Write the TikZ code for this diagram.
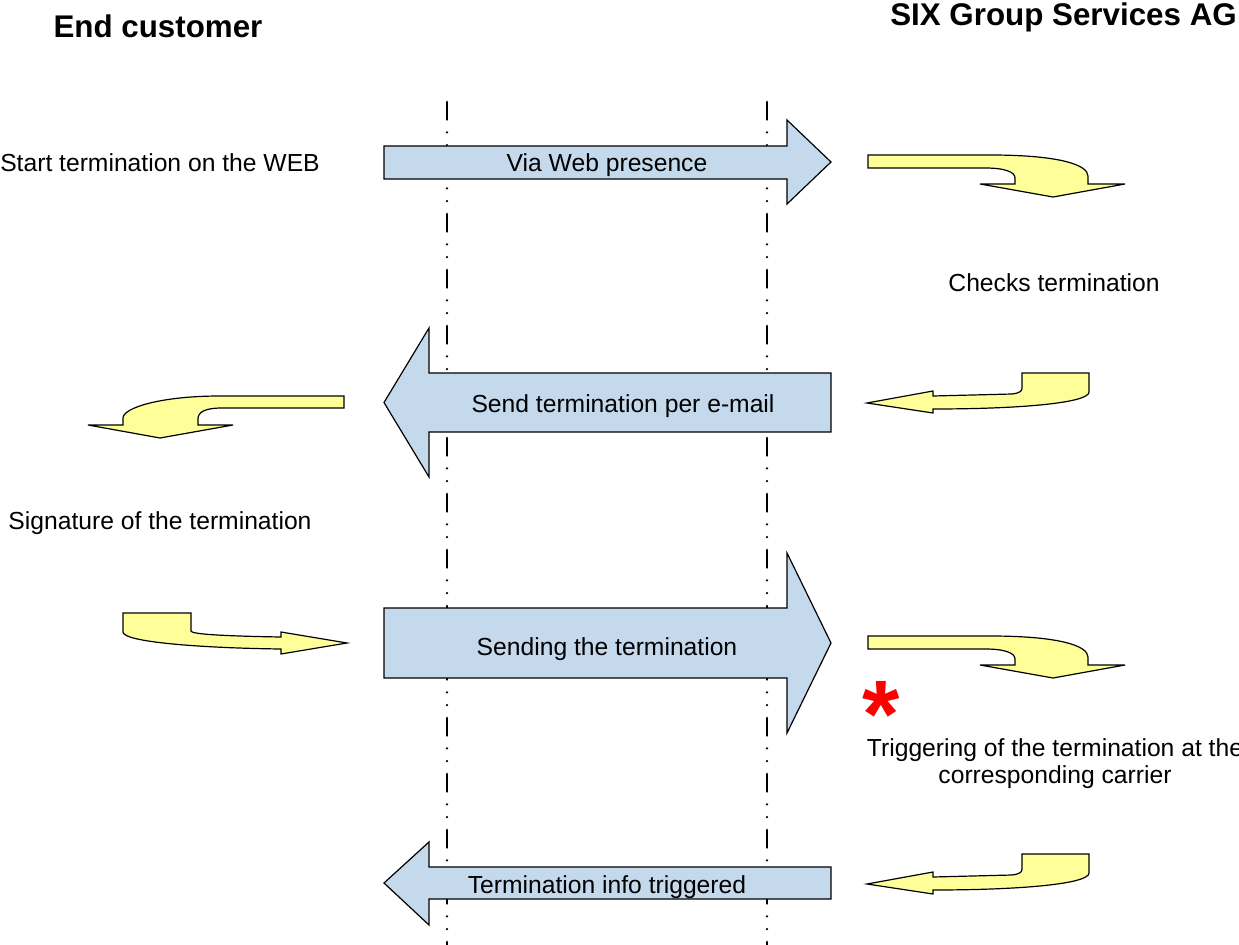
\documentclass[tikz,border=0pt]{standalone}
\usepackage{fontspec}
\setmainfont{Liberation Sans}
\definecolor{bluefill}{RGB}{197,217,236}
\definecolor{yellowfill}{RGB}{255,255,153}
\begin{document}
\begin{tikzpicture}[x=0.75pt,y=-0.75pt,
  bigarrow/.style={fill=bluefill,draw=black,line width=0.9pt,line join=miter},
  bentarrow/.style={fill=yellowfill,draw=black,line width=0.9pt,line join=miter},
  lifeline/.style={draw=black,line width=1.9pt,line cap=round,
     dash pattern=on 13.2pt off 9.6pt on 0pt off 9.6pt on 0pt off 9.6pt},
  lbl/.style={inner sep=0pt,font=\fontsize{18.5}{20.25}\selectfont},
  title/.style={inner sep=0pt,font=\fontsize{23.5}{26}\selectfont\bfseries}]
\useasboundingbox (0,0) rectangle (1239,945);
\fill[white] (0,0) rectangle (1239,945);

% lifelines
\coordinate (l1top) at (447,102);
\coordinate (l1bot) at (447,960);
\coordinate (l2top) at (767,102);
\coordinate (l2bot) at (767,960);
\draw[lifeline] (l1top) -- (l1bot);
\draw[lifeline] (l2top) -- (l2bot);

% titles
\node[title] (tEnd) at (158,26) {End customer};
\node[title,anchor=west] (tSix) at (890,17) {SIX Group Services AG};

% blue arrows
\draw[bigarrow] (384,146) -- (787,146) -- (787,120) -- (831,162) -- (787,204) -- (787,179) -- (384,179) -- cycle;
\node[lbl] (a1) at (607,165) {Via Web presence};

\draw[bigarrow] (831,373) -- (429,373) -- (429,328) -- (384,402.5) -- (429,477) -- (429,432) -- (831,432) -- cycle;
\node[lbl] (a2) at (623,406) {Send termination per e-mail};

\draw[bigarrow] (384,608) -- (787,608) -- (787,553) -- (831,643) -- (787,733) -- (787,678) -- (384,678) -- cycle;
\node[lbl] (a3) at (607,649) {Sending the termination};

\draw[bigarrow] (831,867) -- (429,867) -- (429,842) -- (384,883) -- (429,925) -- (429,899) -- (831,899) -- cycle;
\node[lbl] (a4) at (607,887) {Termination info triggered};

% yellow bent arrows (right side, pointing down)
\foreach \dy in {0,481}{
\draw[bentarrow] (868,155+\dy) -- (990,155+\dy) .. controls (1060,155+\dy) and (1088,165+\dy) .. (1088,176+\dy) -- (1088,184+\dy) -- (1125,184+\dy) -- (1053,197+\dy) -- (980,184+\dy) -- (1015,184+\dy) -- (1015,178+\dy) .. controls (1015,172+\dy) and (1005,168+\dy) .. (985,168+\dy) -- (868,168+\dy) -- cycle;
}
% yellow bent arrows (right side, pointing left)
\foreach \dy in {0,481}{
\draw[bentarrow] (1022,373+\dy) -- (1089,373+\dy) -- (1089,392+\dy) .. controls (1089,403+\dy) and (1020,409+\dy) .. (933,409+\dy) -- (933,413+\dy) -- (867,403+\dy) -- (933,391+\dy) -- (933,396+\dy) -- (1012,394+\dy) .. controls (1020,393+\dy) and (1022,391+\dy) .. (1022,388+\dy) -- cycle;
}
% left side: pointing down
\draw[bentarrow] (344,396) -- (220,396) .. controls (160,396) and (123,408) .. (123,418) -- (123,425) -- (88,425) -- (160,438) -- (233,425) -- (198,425) -- (198,419) .. controls (198,412) and (205,408) .. (222,408) -- (344,408) -- cycle;
% left side: pointing right
\draw[bentarrow] (123,613) -- (191,613) -- (191,631) .. controls (191,634) and (220,636) .. (281,637) -- (281,632) -- (347,643) -- (281,654) -- (281,649) .. controls (200,648) and (123,642) .. (123,632) -- cycle;

% labels
\node[lbl] (s1) at (160,163) {Start termination on the WEB};
\node[lbl] (s2) at (1054,283) {Checks termination};
\node[lbl] (s3) at (160,523) {Signature of the termination};
\node[lbl,align=center] (s4) at (1055,764) {Triggering of the termination at the\\corresponding carrier};
\node[inner sep=0pt,anchor=base,text=red,font=\fontsize{72}{72}\selectfont\bfseries] (star) at (881,747) {*};
\end{tikzpicture}
\end{document}
